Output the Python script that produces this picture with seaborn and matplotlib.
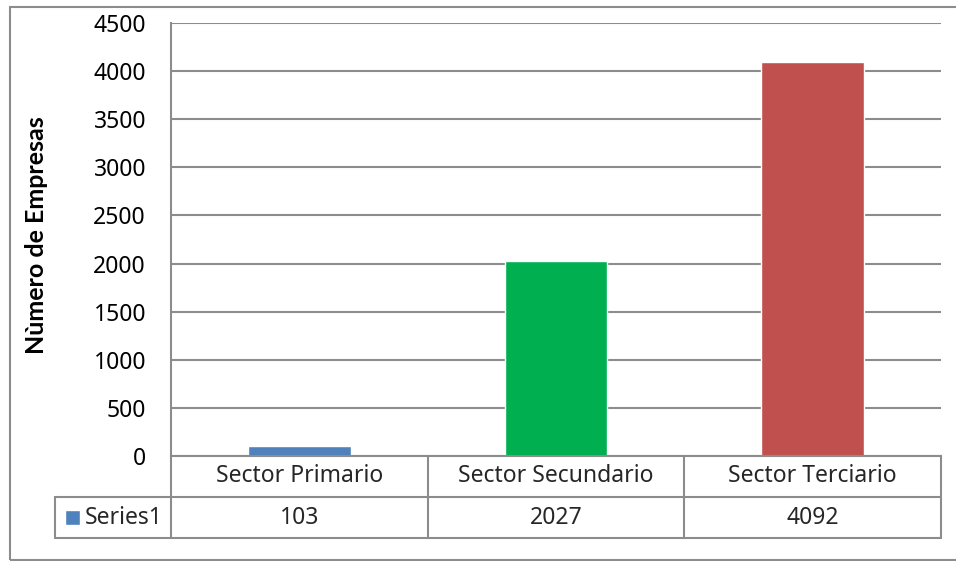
import matplotlib
matplotlib.use("Agg")
import matplotlib.pyplot as plt
from matplotlib.patches import Rectangle
import pandas as pd
import seaborn as sns

sectors = ["Sector Primario", "Sector Secundario", "Sector Terciario"]
empresas = [103, 2027, 4092]
colors = ["#4F81BD", "#00B050", "#C0504D"]
series_name = "Series1"
y_ticks = [0, 500, 1000, 1500, 2000, 2500, 3000, 3500, 4000, 4500]

df = pd.DataFrame({"sector": sectors, "empresas": empresas})

sns.set_style("white")
plt.rcParams["font.family"] = ["Noto Sans", "DejaVu Sans"]

grey = "#8c8c8c"
fs = 16.5
fig = plt.figure(figsize=(9.56, 5.61), dpi=100)
ax = fig.add_axes([171 / 956, 1 - 456 / 561, 770 / 956, 433 / 561])

sns.barplot(data=df, x="sector", y="empresas", hue="sector", palette=colors,
            width=0.4, saturation=1, errorbar=None, legend=False, ax=ax)

ax.set_xlim(-0.5, 2.5)
ax.set_ylim(0, 4500)
ax.set_yticks(y_ticks)
ax.set_yticklabels([str(t) for t in y_ticks], fontsize=fs, color="black")
ax.tick_params(axis="y", length=0, pad=18)
ax.set_xticks([])
ax.set_xlabel("")
ax.set_ylabel("Nùmero de Empresas", fontsize=18, fontweight="bold", color="black",
              family=["Lato", "DejaVu Sans"])
ax.yaxis.set_label_coords(-0.16, 0.51)
ax.grid(axis="y", color=grey, lw=1.5)
ax.set_axisbelow(True)
for s in ["top", "right"]:
    ax.spines[s].set_visible(False)
for s in ["left", "bottom"]:
    ax.spines[s].set_color(grey)
    ax.spines[s].set_linewidth(1.5)

# data table below the axis
tr = ax.get_xaxis_transform()
h = 41 / 433
left = -0.5 - 116 / (770 / 3)
kw = dict(color=grey, lw=1.5, transform=tr, clip_on=False)
ax.plot([left, 2.5], [-h, -h], **kw)
ax.plot([left, 2.5], [-2 * h, -2 * h], **kw)
for xv in [-0.5, 0.5, 1.5, 2.5]:
    ax.plot([xv, xv], [0, -2 * h], **kw)
ax.plot([left, left], [-h, -2 * h], **kw)
for i, (s, v) in enumerate(zip(sectors, empresas)):
    ax.text(i, -h / 2, s, ha="center", va="center", fontsize=fs, transform=tr)
    ax.text(i, -1.5 * h, str(v), ha="center", va="center", fontsize=fs, transform=tr)
sq = 15 / (770 / 3)
x0 = left + 10 / (770 / 3)
ax.add_patch(Rectangle((x0, -1.5 * h - 7.5 / 433), sq, 15 / 433,
                       facecolor=colors[0], transform=tr, clip_on=False))
ax.text(x0 + sq + 5 / (770 / 3), -1.5 * h, series_name, ha="left", va="center",
        fontsize=fs, transform=tr)

# outer chart border
fig.patches.append(Rectangle((10 / 956, 1 / 561), 1.0, 1 - 8 / 561, fill=False,
                             edgecolor=grey, lw=1.5, transform=fig.transFigure))

fig.savefig("out.png", dpi=100)
